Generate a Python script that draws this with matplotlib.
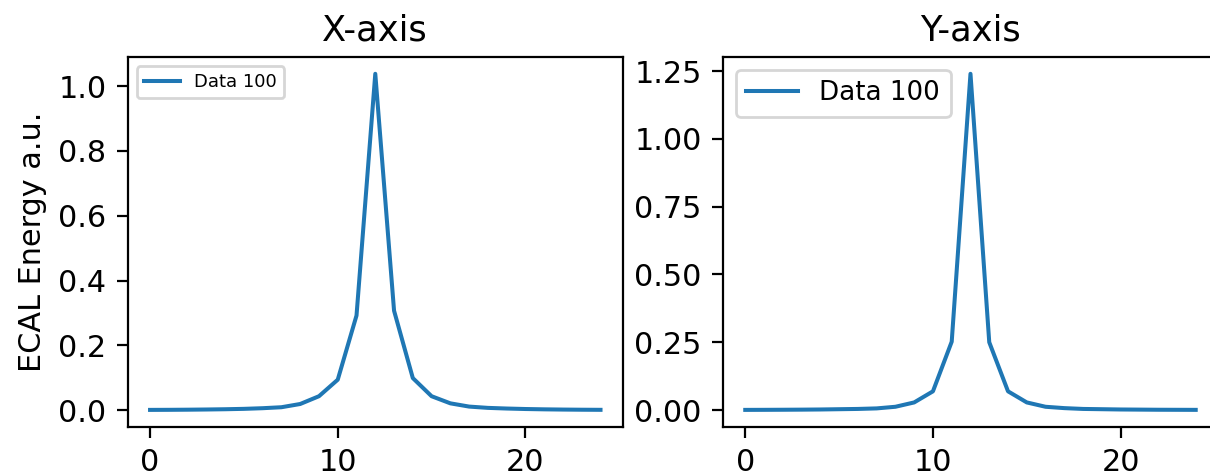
import numpy as np
import matplotlib
matplotlib.use("Agg")
import matplotlib.pyplot as plt

# cell index along each axis
cells = np.arange(25)

# ECAL energy profile
x_profile = [0.0008, 0.001, 0.0014, 0.002, 0.0028, 0.004, 0.006, 0.009, 0.019, 0.043,
             0.094, 0.292, 1.038, 0.307, 0.099, 0.043, 0.021, 0.011, 0.007, 0.005,
             0.0035, 0.0025, 0.0018, 0.0013, 0.001]
y_profile = [0.0005, 0.0007, 0.001, 0.0014, 0.002, 0.003, 0.004, 0.006, 0.012, 0.028,
             0.069, 0.252, 1.240, 0.250, 0.069, 0.028, 0.012, 0.007, 0.004, 0.003,
             0.002, 0.0015, 0.001, 0.0008, 0.0006]

label = "Data 100"
titles = ["X-axis", "Y-axis"]

plt.rcParams['xtick.labelsize'] = 10.9
plt.rcParams['ytick.labelsize'] = 10.9
plt.rcParams['xtick.major.size'] = 3.8
plt.rcParams['ytick.major.size'] = 3.8
plt.rcParams['xtick.major.pad'] = 3.8
plt.rcParams['ytick.major.pad'] = 3.8
plt.rcParams['lines.linewidth'] = 1.45

fig = plt.figure(figsize=(6.05, 2.375), dpi=200)
ax1 = fig.add_axes([0.1054, 0.1017, 0.4095, 0.7783])
ax2 = fig.add_axes([0.5973, 0.1017, 0.4095, 0.7783])

ax1.plot(cells, x_profile, label=label)
ax1.set_title(titles[0], fontsize=12.7)
ax1.set_ylabel("ECAL Energy a.u.", fontsize=10.9)
ax1.legend(loc="upper left", fontsize=6.5)

ax2.plot(cells, y_profile, label=label)
ax2.set_title(titles[1], fontsize=12.7)
ax2.legend(loc="upper left", fontsize=9.4)

fig.savefig("out.png", dpi=200)
